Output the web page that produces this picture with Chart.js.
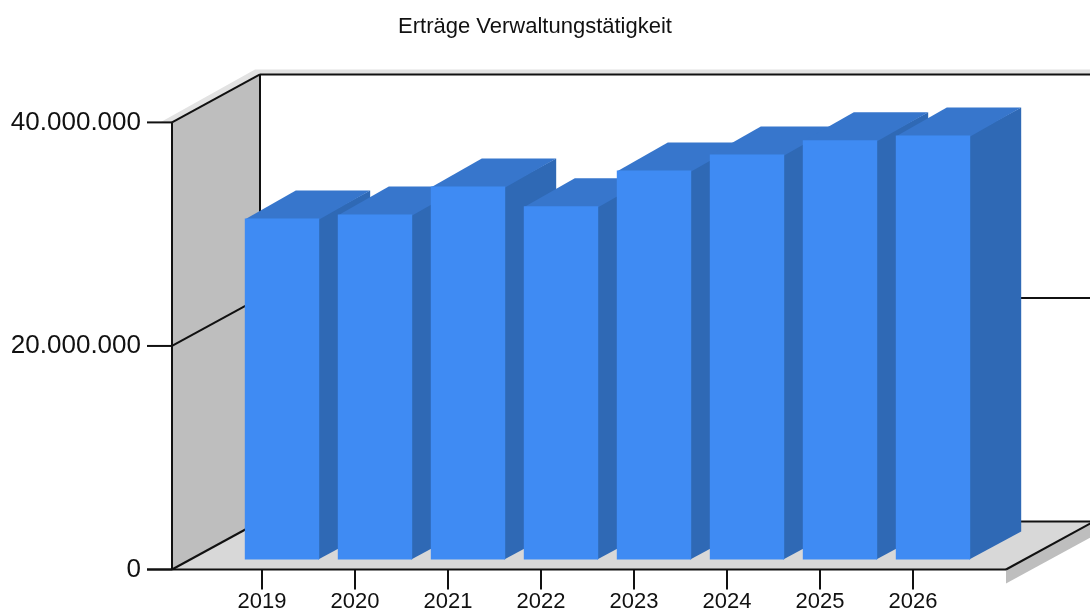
<!DOCTYPE html>
<html>
<head>
<meta charset="utf-8">
<style>
  html, body { margin: 0; padding: 0; background: #fff; }
  canvas { display: block; }
</style>
<script src="https://cdn.jsdelivr.net/npm/chart.js@4"></script>
</head>
<body>
<canvas id="chart" width="1090" height="612"></canvas>
<script>
const chartTitle = 'Erträge Verwaltungstätigkeit';
const years = ['2019', '2020', '2021', '2022', '2023', '2024', '2025', '2026'];
const revenue = [30500000, 30870000, 33380000, 31600000, 34800000, 36240000, 37500000, 37940000];
const yTicks = [0, 20000000, 40000000];

// 3D look: wall depth and how far bars sit in from the front
const wallDx = 88, wallDy = 48;
const barDx = 51, barDy = 28;
const baseDx = 20, baseDy = 10;

function line(ctx, x1, y1, x2, y2) {
    ctx.beginPath();
    ctx.moveTo(x1, y1);
    ctx.lineTo(x2, y2);
    ctx.stroke();
}

function poly(ctx, color, pts) {
    ctx.fillStyle = color;
    ctx.beginPath();
    pts.forEach(function (p, i) {
        if (i === 0) ctx.moveTo(p[0], p[1]);
        else ctx.lineTo(p[0], p[1]);
    });
    ctx.closePath();
    ctx.fill();
}

const box3d = {
    id: 'box3d',
    afterLayout(chart) {
        // title is centred on the whole picture minus the cut off part, not on the bars
        chart.titleBlock.left = 0;
        chart.titleBlock.right = 1070;
    },
    beforeDatasetsDraw(chart) {
        const ctx = chart.ctx;
        const y = chart.scales.y;
        const top = y.getPixelForValue(40000000);
        const bottom = y.getPixelForValue(0);
        const left = 172, right = 1006, edge = chart.width + 4;

        ctx.save();
        // shadows
        poly(ctx, '#e2e2e2', [[160, top], [left, top], [left + wallDx, top - wallDy], [edge, top - wallDy], [edge, top - wallDy - 5], [left + wallDx - 5, top - wallDy - 5]]);
        poly(ctx, '#bebebe', [[right, bottom], [right, bottom + 14], [right + wallDx, bottom + 14 - wallDy], [right + wallDx, bottom - wallDy]]);
        // left wall and floor
        poly(ctx, '#bebebe', [[left, top], [left + wallDx, top - wallDy], [left + wallDx, bottom - wallDy], [left, bottom]]);
        poly(ctx, '#d8d8d8', [[left, bottom], [left + wallDx, bottom - wallDy], [edge, bottom - wallDy], [right, bottom]]);

        ctx.strokeStyle = '#111';
        ctx.lineWidth = 2;
        line(ctx, left, top, left, bottom);
        line(ctx, left + wallDx, top - wallDy, left + wallDx, bottom - wallDy);
        line(ctx, left + wallDx, top - wallDy, edge, top - wallDy);
        line(ctx, left, top, left + wallDx, top - wallDy);
        line(ctx, left + wallDx, bottom - wallDy, edge, bottom - wallDy);
        line(ctx, 147, bottom, right, bottom);
        line(ctx, left, bottom, left + wallDx, bottom - wallDy);
        line(ctx, right, bottom, right + wallDx, bottom - wallDy);
        yTicks.forEach(function (v) {
            const py = y.getPixelForValue(v);
            line(ctx, 147, py, left, py);
            if (v > 0 && v < 40000000) {
                line(ctx, left, py, left + wallDx, py - wallDy);
                line(ctx, left + wallDx, py - wallDy, edge, py - wallDy);
            }
        });

        // bars are pushed back from the axis, top and side go under the fronts
        ctx.translate(baseDx, -baseDy);
        const base = y.getPixelForValue(0);
        chart.getDatasetMeta(0).data.forEach(function (bar) {
            const p = bar.getProps(['x', 'y', 'width']);
            const x1 = p.x - p.width / 2, x2 = p.x + p.width / 2;
            poly(ctx, '#2f69b5', [[x2 - 1, p.y], [x2 + barDx, p.y - barDy], [x2 + barDx, base - barDy], [x2 - 1, base]]);
            poly(ctx, '#3776cc', [[x1, p.y + 1], [x1 + barDx, p.y - barDy], [x2 + barDx, p.y - barDy], [x2, p.y + 1]]);
        });
        ctx.restore();

        ctx.save();
        ctx.translate(baseDx, -baseDy);
    },
    afterDatasetsDraw(chart) {
        chart.ctx.restore();
    }
};

new Chart(document.getElementById('chart'), {
    type: 'bar',
    data: {
        labels: years,
        datasets: [{
            data: revenue,
            backgroundColor: '#3f8bf3',
            categoryPercentage: 1,
            barPercentage: 0.8,
            clip: false
        }]
    },
    options: {
        responsive: false,
        animation: false,
        layout: {
            padding: { left: 0, right: 130.5, top: 0, bottom: -1.5 }
        },
        plugins: {
            legend: { display: false },
            tooltip: { enabled: false },
            title: {
                display: true,
                text: chartTitle,
                color: '#111',
                font: { family: 'Liberation Sans', size: 22, weight: 'normal' },
                padding: { top: 14, bottom: 82 }
            }
        },
        scales: {
            x: {
                grid: { drawOnChartArea: false, offset: false, tickLength: 20, color: '#111', lineWidth: 2 },
                border: { display: false },
                ticks: { color: '#111', padding: 1, maxRotation: 0, font: { family: 'Liberation Sans', size: 22, lineHeight: 1 } }
            },
            y: {
                min: 0,
                max: 40000000,
                grid: { display: false },
                border: { display: false },
                afterBuildTicks(scale) {
                    scale.ticks = yTicks.map(function (v) { return { value: v }; });
                },
                ticks: {
                    color: '#111',
                    padding: 66.5,
                    font: { family: 'Liberation Sans', size: 26 },
                    callback: function (v) { return v.toLocaleString('de-DE'); }
                },
                afterFit(scale) {
                    // tick padding would otherwise also eat the height of the plot
                    scale.width = 215.5;
                    scale.paddingTop = 0;
                    scale.paddingBottom = 0;
                }
            }
        }
    },
    plugins: [box3d]
});
</script>
</body>
</html>
